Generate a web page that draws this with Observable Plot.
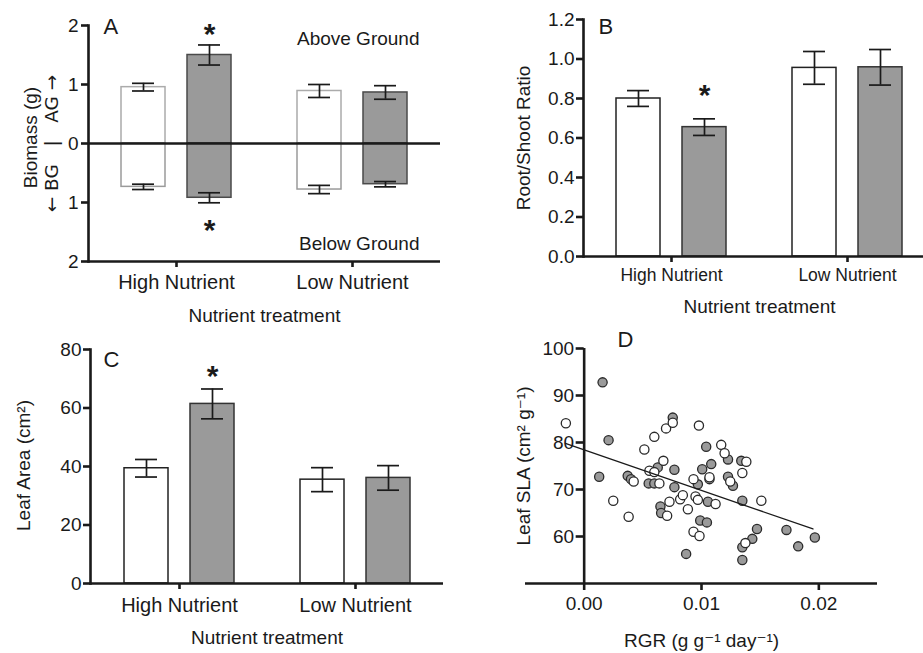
<!DOCTYPE html>
<html><head><meta charset="utf-8">
<script src="https://cdn.jsdelivr.net/npm/d3@7"></script>
<script src="https://cdn.jsdelivr.net/npm/@observablehq/plot@0.6"></script>
<style>
html,body{margin:0;padding:0;background:#fff;overflow:hidden;}
#fig{position:relative;width:923px;height:653px;overflow:hidden;background:#fff;}
</style></head><body><div id="fig"></div>
<script>
// ---------- data ----------
const groups = ["High Nutrient", "Low Nutrient"];

// Panel A: biomass (g), above ground (AG) and below ground (BG)
const agCtrl = [0.955, 0.89];   const agCtrlErr = [0.065, 0.11];
const agTreat = [1.50, 0.865];  const agTreatErr = [0.17, 0.115];
const bgCtrl = [0.735, 0.78];   const bgCtrlErr = [0.045, 0.07];
const bgTreat = [0.92, 0.69];   const bgTreatErr = [0.085, 0.045];
const aTicks = [-2, -1, 0, 1, 2];

// Panel B: root/shoot ratio
const rsCtrl = [0.80, 0.955];   const rsCtrlErr = [0.04, 0.083];
const rsTreat = [0.655, 0.958]; const rsTreatErr = [0.042, 0.09];
const bTicks = [0, 0.2, 0.4, 0.6, 0.8, 1.0, 1.2];

// Panel C: leaf area (cm2)
const laCtrl = [39.4, 35.5];    const laCtrlErr = [3.0, 4.1];
const laTreat = [61.4, 36.1];   const laTreatErr = [5.1, 4.2];
const cTicks = [0, 20, 40, 60, 80];

// significance markers (treatment bar in these groups)
const starGroups = ["High Nutrient"];

// Panel D: leaf SLA vs RGR
const grayRGR = [0.00157,0.00208,0.00128,0.00371,0.00399,0.0055,0.00598,0.00627,0.00769,0.00755,0.00769,0.0065,0.00656,0.00869,0.0104,0.01226,0.01083,0.01006,0.01339,0.01068,0.01226,0.01268,0.00969,0.01055,0.01348,0.00989,0.01046,0.01473,0.01433,0.01348,0.01348,0.01724,0.01824,0.01966];
const graySLA = [92.8,80.5,72.7,72.9,72.2,71.3,71.3,74.7,74.2,85.3,70.5,66.4,65.0,56.3,79.1,76.4,75.4,74.3,76.1,72.2,72.7,70.8,71.1,67.4,67.6,63.4,63.0,61.6,59.5,57.7,55.0,61.4,57.9,59.8];
const whiteRGR = [-0.00156,0.00513,0.00598,0.00698,0.00755,0.00675,0.00556,0.00598,0.00422,0.00641,0.00248,0.00379,0.00707,0.00727,0.00818,0.00841,0.00978,0.01168,0.01197,0.01382,0.01348,0.00932,0.01068,0.01245,0.00949,0.00969,0.00884,0.0112,0.0151,0.00932,0.00983,0.01374];
const whiteSLA = [84.1,78.5,81.2,83.0,84.2,76.1,74.0,73.7,71.7,71.3,67.6,64.2,64.4,67.4,67.9,68.8,83.6,79.5,77.7,75.9,73.5,72.2,72.6,71.7,68.5,67.8,65.8,66.9,67.6,61.0,60.1,58.6];
const fitRGR = [-0.0016, 0.0195];
const fitSLA = [79.8, 61.6];
const dXDomain = [-0.005, 0.025];
const dYDomain = [50, 100];
const dXTicks = [0, 0.01, 0.02];
const dYTicks = [60, 70, 80, 90, 100];

// ---------- styling ----------
const FONT = '"Liberation Sans", Arial, "DejaVu Sans", sans-serif';
const INK = "#1a1a1a";
const GRAY = "#9a9a9a";
const AX = 2.6;
const style = {fontFamily: FONT, fontSize: "19px", color: INK, background: "transparent", overflow: "visible"};
const fig = document.getElementById("fig");
function place(svg, left, top) {
  svg.style.position = "absolute"; svg.style.left = left + "px"; svg.style.top = top + "px";
  fig.appendChild(svg);
}
const rows = (vals, errs) => groups.map((g, i) => ({group: g, value: vals[i], err: errs[i]}));
const CTRL = {bar: {insetLeft: 33, insetRight: 99}, cap: {insetLeft: 44, insetRight: 110}, dx: -33};
const TREAT = {bar: {insetLeft: 99, insetRight: 33}, cap: {insetLeft: 110, insetRight: 44}, dx: 33};

function barSeries(data, sign, side, fill, stroke) {
  return [
    Plot.barY(data, {x: "group", y1: 0, y2: d => sign * d.value, fill, stroke, strokeWidth: 1.5, ...side.bar}),
    Plot.ruleX(data, {x: "group", y1: d => sign * (d.value - d.err), y2: d => sign * (d.value + d.err), dx: side.dx, stroke: INK, strokeWidth: 1.7}),
    Plot.tickY(data, {x: "group", y: d => sign * (d.value + d.err), ...side.cap, stroke: INK, strokeWidth: 1.7}),
    Plot.tickY(data, {x: "group", y: d => sign * (d.value - d.err), ...side.cap, stroke: INK, strokeWidth: 1.7})
  ];
}
function stars(data, sign, dy) {
  return Plot.text(data.filter(d => starGroups.includes(d.group)), {
    x: "group", y: d => sign * (d.value + d.err), text: () => "*", dx: 33, dy,
    lineAnchor: "middle", fontSize: 30, fontWeight: "bold", fill: INK
  });
}
const yLabel = (t, dx, dy = 0, extra = {}) => Plot.text([t], {frameAnchor: "left", textAnchor: "middle", lineAnchor: "middle", rotate: -90, dx, dy, fontSize: 19, fill: INK, ...extra});
const xLabel = (t, dy) => Plot.text([t], {frameAnchor: "bottom", textAnchor: "middle", lineAnchor: "middle", dy, fontSize: 19, fill: INK});
const letter = (t, dx, dy) => Plot.text([t], {frameAnchor: "top-left", textAnchor: "start", lineAnchor: "middle", dx, dy, fontSize: 22, fill: INK});

// ---------- Panel A ----------
const agC = rows(agCtrl, agCtrlErr), agT = rows(agTreat, agTreatErr);
const bgC = rows(bgCtrl, bgCtrlErr), bgT = rows(bgTreat, bgTreatErr);
place(Plot.plot({
  width: 460, height: 330, marginLeft: 88, marginRight: 20, marginTop: 25, marginBottom: 69,
  style,
  x: {type: "band", domain: groups, padding: 0},
  y: {domain: [-2, 2]},
  marks: [
    ...barSeries(agC, 1, CTRL, "white", "#ababab"),
    ...barSeries(agT, 1, TREAT, GRAY, "#4a4a4a"),
    ...barSeries(bgC, -1, CTRL, "white", "#9a9a9a"),
    ...barSeries(bgT, -1, TREAT, GRAY, "#4a4a4a"),
    Plot.ruleY([0], {stroke: INK, strokeWidth: AX}),
    Plot.ruleY([-2], {stroke: INK, strokeWidth: AX}),
    Plot.frame({anchor: "left", stroke: INK, strokeWidth: AX}),
    Plot.axisY({ticks: aTicks, tickFormat: d => Math.abs(d), tickSize: 7, tickPadding: 3, fontSize: 19, strokeWidth: AX, label: null}),
    Plot.axisX({tickSize: 6, tickPadding: 7, fontSize: 20, strokeWidth: AX, label: null}),
    stars(agT, 1, -11),
    stars(bgT, -1, 28),
    letter("A", 15, 1),
    Plot.text(["Above Ground"], {frameAnchor: "top-right", textAnchor: "end", lineAnchor: "middle", dx: -21, dy: 13, fontSize: 19, fill: INK}),
    Plot.text(["Below Ground"], {frameAnchor: "bottom-right", textAnchor: "end", lineAnchor: "middle", dx: -21, dy: -18, fontSize: 19, fill: INK}),
    yLabel("Biomass (g)", -58, -6),
    yLabel("\u2190\u00a0BG\u00a0\u00a0\u00a0|\u00a0\u00a0\u00a0AG\u00a0\u2192", -36, 0, {fontFamily: '"DejaVu Sans", sans-serif', fontSize: 18.5}),
    xLabel("Nutrient treatment", 54)
  ]
}), 0, 0);

// ---------- Panel B ----------
const rsC = rows(rsCtrl, rsCtrlErr), rsT = rows(rsTreat, rsTreatErr);
place(Plot.plot({
  width: 475, height: 330, marginLeft: 123, marginRight: 0, marginTop: 19, marginBottom: 74,
  style,
  x: {type: "band", domain: groups, padding: 0},
  y: {domain: [0, 1.2]},
  marks: [
    ...barSeries(rsC, 1, CTRL, "white", "#222"),
    ...barSeries(rsT, 1, TREAT, GRAY, "#333"),
    Plot.ruleY([0], {stroke: INK, strokeWidth: AX}),
    Plot.frame({anchor: "left", stroke: INK, strokeWidth: AX}),
    Plot.axisY({ticks: bTicks, tickFormat: d3.format(".1f"), tickSize: 7, tickPadding: 2, fontSize: 19, strokeWidth: AX, label: null}),
    Plot.axisX({tickSize: 6, tickPadding: 6, fontSize: 17.5, strokeWidth: AX, label: null}),
    stars(rsT, 1, -23),
    letter("B", 15, 7),
    yLabel("Root/Shoot Ratio", -60, 0),
    xLabel("Nutrient treatment", 50)
  ]
}), 460, 0);

// ---------- Panel C ----------
const laC = rows(laCtrl, laCtrlErr), laT = rows(laTreat, laTreatErr);
place(Plot.plot({
  width: 460, height: 333, marginLeft: 90, marginRight: 17, marginTop: 29, marginBottom: 70,
  style,
  x: {type: "band", domain: groups, padding: 0},
  y: {domain: [0, 80]},
  marks: [
    ...barSeries(laC, 1, CTRL, "white", "#222"),
    ...barSeries(laT, 1, TREAT, GRAY, "#333"),
    Plot.ruleY([0], {stroke: INK, strokeWidth: AX}),
    Plot.frame({anchor: "left", stroke: INK, strokeWidth: AX}),
    Plot.axisY({ticks: cTicks, tickSize: 7, tickPadding: 2, fontSize: 19, strokeWidth: AX, label: null}),
    Plot.axisX({tickSize: 6, tickPadding: 8, fontSize: 20, strokeWidth: AX, label: null}),
    stars(laT, 1, -13),
    letter("C", 13, 10),
    yLabel("Leaf Area (cm\u00b2)", -67, -1),
    xLabel("Nutrient treatment", 54)
  ]
}), 0, 320);

// ---------- Panel D ----------
const grayPts = grayRGR.map((x, i) => ({x, y: graySLA[i]}));
const whitePts = whiteRGR.map((x, i) => ({x, y: whiteSLA[i]}));
const fitPts = fitRGR.map((x, i) => ({x, y: fitSLA[i]}));
place(Plot.plot({
  width: 463, height: 333, marginLeft: 65, marginRight: 46, marginTop: 28, marginBottom: 70,
  style,
  x: {domain: dXDomain},
  y: {domain: dYDomain},
  marks: [
    Plot.dot(grayPts, {x: "x", y: "y", r: 4.6, fill: GRAY, stroke: "#2a2a2a", strokeWidth: 1.3}),
    Plot.dot(whitePts, {x: "x", y: "y", r: 4.6, fill: "white", stroke: "#2a2a2a", strokeWidth: 1.3}),
    Plot.line(fitPts, {x: "x", y: "y", stroke: INK, strokeWidth: 1.3}),
    Plot.ruleY([dYDomain[0]], {stroke: INK, strokeWidth: AX}),
    Plot.ruleX([0], {stroke: INK, strokeWidth: AX}),
    Plot.ruleY(dYTicks, {y: d => d, x1: 0, x2: 0, insetLeft: -8, stroke: INK, strokeWidth: AX}),
    Plot.text(dYTicks, {x: 0, y: d => d, text: d => String(d), textAnchor: "end", lineAnchor: "middle", dx: -10, fontSize: 19, fill: INK}),
    Plot.axisX({ticks: dXTicks, tickFormat: d3.format(".2f"), tickSize: 7, tickPadding: 6, fontSize: 19, strokeWidth: AX, label: null}),
    Plot.axisY({ticks: [], label: null}),
    Plot.text(["D"], {frameAnchor: "top-left", textAnchor: "start", lineAnchor: "middle", dx: 92, dy: -9, fontSize: 22, fill: INK}),
    yLabel("Leaf SLA (cm\u00b2 g\u207b\u00b9)", -2, 0),
    xLabel("RGR (g g\u207b\u00b9 day\u207b\u00b9)", 57)
  ]
}), 460, 320);
</script></body></html>
